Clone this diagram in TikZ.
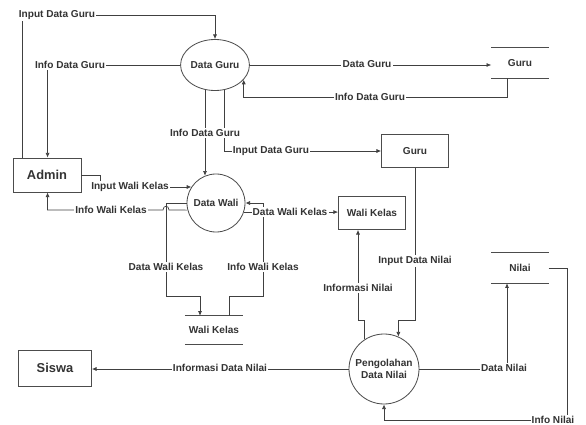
\documentclass[tikz,border=0pt]{standalone}
\usepackage{fontspec}
\setmainfont{Liberation Sans}
\usetikzlibrary{arrows.meta,calc,shapes.geometric}
\tikzset{
  entity/.style={draw=black!70, line width=0.7pt, minimum width=2.01cm, minimum height=0.99cm,
    text=black!80, font=\bfseries\fontsize{8.6}{10}\selectfont},
  bigentity/.style={entity, font=\bfseries\fontsize{11}{13}\selectfont},
  proc/.style={draw=black!70, line width=0.7pt, circle, inner sep=0pt, minimum size=1.74cm,
    align=center, text=black!80, font=\bfseries\fontsize{8.6}{10}\selectfont},
  store/.style={minimum width=1.71cm, minimum height=0.9cm, text=black!80,
    font=\bfseries\fontsize{8.6}{10}\selectfont},
  flow/.style={draw=black!75, line width=0.6pt, -{Latex[length=4pt,width=3.5pt]}},
  lbl/.style={fill=white, inner sep=1pt, text=black!80, font=\bfseries\fontsize{8.6}{10}\selectfont}
}
\begin{document}
\begin{tikzpicture}[x=0.03cm, y=-0.03cm]
  \useasboundingbox (0,0) rectangle (586,425);
  % Entities
  \node[bigentity, minimum width=2.04cm, minimum height=1.02cm] (admin) at (47,175) {Admin};
  \node[bigentity, minimum width=2.19cm, minimum height=1.08cm] (siswa) at (55,368) {Siswa};
  \node[entity] (guru) at (415,151) {Guru};
  \node[entity] (wk) at (372,213) {Wali Kelas};
  % Processes
  \node[proc, ellipse, minimum width=1.8cm, minimum height=1.53cm] (dg) at (215,65) {Data Guru};
  \node[proc] (dw) at (216,203) {Data Wali};
  \node[proc, minimum size=2.1cm] (pdn) at (384,369) {Pengolahan\\Data Nilai};
  % Data stores
  \node[store] (sguru) at (520,63) {Guru};
  \node[store, minimum height=0.84cm] (swk) at (214,330) {Wali Kelas};
  \node[store] (snilai) at (520,268) {Nilai};
  \foreach \s in {sguru, swk, snilai}
    \draw[black!70, line width=0.7pt] (\s.north west) -- (\s.north east)
      (\s.south west) -- (\s.south east);
  % Flows
  \draw[flow] ($(admin.north west)+(10,0)$) |- ($(dg.north)+(0,-24)$) -- (dg.north);
  \draw[flow] (dg.west) -| ($(admin.north west)+(35,0)$);
  \draw[flow] (dg.east) -- (dg.east -| sguru.west);
  \draw[flow] ($(sguru.south)+(-13,0)$) |- (dg.-27 |- 0,97) -- (dg.-27);
  \draw[flow] (dg.-112) -- (dg.-112 |- dw.112);
  \draw[flow] (dg.-70) |- (guru.west);
  \draw[flow] (admin.east) -- ++(19,0) |- (dw.147);
  \draw[flow] (dw.194) -- (169,210) .. controls (169,205) and (163,205) .. (163,210)
    -| ($(admin.south west)+(35,0)$);
  \draw[flow] (dw.west) -| (166,296) -| ($(swk.north)+(-14,0)$);
  \draw[flow] ($(swk.north)+(15,0)$) |- (263,296) |- (dw.east);
  \draw[flow] (dw.-18) -- (dw.-18 -| wk.west);
  \draw[flow] (guru.south) |- (pdn.66 |- 0,320) -- (pdn.66);
  \draw[flow] (pdn.123) |- (358,320) -- (wk.south -| 358,0);
  \draw[flow] (pdn.west) -- (pdn.west -| siswa.east);
  \draw[flow] (pdn.east) -| ($(snilai.south)+(-13,0)$);
  \draw[flow] (snilai.east) -- ++(19,0) |- (pdn.south |- 0,420) -- (pdn.south);
  % Flow labels
  \foreach \n/\x/\y/\t in {l1/57/15/Input Data Guru, l2/70/65/Info Data Guru,
      l3/367/64/Data Guru, l4/370/97/Info Data Guru, l5/205/133/Info Data Guru,
      l6/271/151/Input Data Guru, l7/130/187/Input Wali Kelas, l8/111/210/Info Wali Kelas,
      l9/166/267/Data Wali Kelas, l10/263/267/Info Wali Kelas, l11/290/212/Data Wali Kelas,
      l12/415/261/Input Data Nilai, l13/358/288/Informasi Nilai,
      l14/220/368/Informasi Data Nilai, l15/504/368/Data Nilai, l16/553/420/Info Nilai}
    \node[lbl] (\n) at (\x,\y) {\t};
\end{tikzpicture}
\end{document}
